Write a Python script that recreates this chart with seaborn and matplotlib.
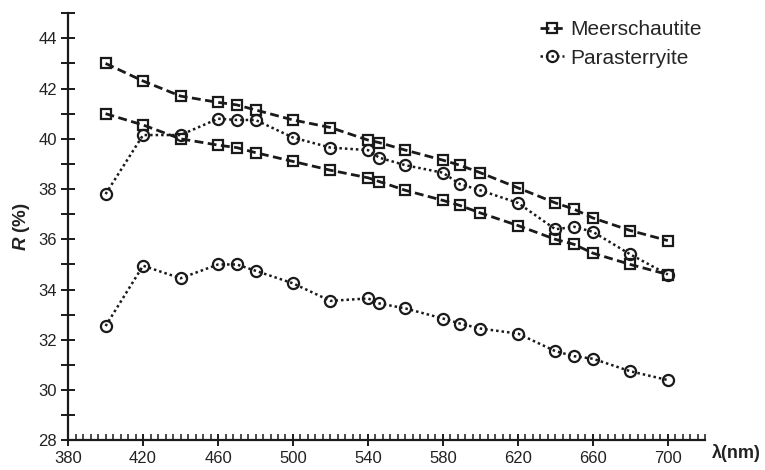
import pandas as pd
import seaborn as sns
import matplotlib.pyplot as plt
from matplotlib.ticker import MultipleLocator

# wavelengths (nm)
wl = [400, 420, 440, 460, 470, 480, 500, 520, 540, 546, 560, 580, 589, 600, 620, 640, 650, 660, 680, 700]

# Meerschautite R1 / R2
meer_r1 = [43.0, 42.3, 41.7, 41.45, 41.35, 41.15, 40.75, 40.45, 39.95, 39.85, 39.55, 39.15, 38.95, 38.65, 38.05, 37.45, 37.2, 36.85, 36.35, 35.95]
meer_r2 = [41.0, 40.55, 40.0, 39.75, 39.65, 39.45, 39.1, 38.75, 38.45, 38.3, 37.95, 37.55, 37.35, 37.05, 36.55, 36.0, 35.8, 35.45, 35.0, 34.6]

# Parasterryite R1 / R2
para_r1 = [37.8, 40.15, 40.15, 40.8, 40.75, 40.75, 40.05, 39.65, 39.55, 39.25, 38.95, 38.65, 38.2, 37.95, 37.45, 36.4, 36.5, 36.3, 35.4, 34.6]
para_r2 = [32.55, 34.95, 34.45, 35.0, 35.0, 34.75, 34.25, 33.55, 33.65, 33.45, 33.25, 32.85, 32.65, 32.45, 32.25, 31.55, 31.35, 31.25, 30.75, 30.4]

sns.set_style("ticks")
plt.rcParams['font.family'] = ['Liberation Sans', 'DejaVu Sans']
plt.rcParams['mathtext.fontset'] = 'custom'
plt.rcParams['mathtext.it'] = 'Liberation Sans:italic:bold'

fig = plt.figure(figsize=(7.65, 4.7), dpi=100)
ax = fig.add_axes([0.089, 0.063, 0.833, 0.909])

ink = '#1a1a1a'
meer_kw = dict(color=ink, linestyle=(0, (3.2, 1.6)), linewidth=2.0, marker='s', markersize=7.5,
               markerfacecolor='none', markeredgecolor=ink, markeredgewidth=1.6)
para_kw = dict(color=ink, linestyle=(0, (1, 1.2)), linewidth=1.8, marker='o', markersize=8,
               markerfacecolor='none', markeredgecolor=ink, markeredgewidth=1.6)

sns.lineplot(x=wl, y=meer_r1, ax=ax, label='Meerschautite', **meer_kw)
sns.lineplot(x=wl, y=meer_r2, ax=ax, **meer_kw)
sns.lineplot(x=wl, y=para_r1, ax=ax, label='Parasterryite', **para_kw)
sns.lineplot(x=wl, y=para_r2, ax=ax, **para_kw)

ax.set_xlim(380, 720)
ax.set_ylim(28, 45)
ax.set_xticks(range(380, 701, 40))
ax.xaxis.set_minor_locator(MultipleLocator(4))
ax.set_yticks(range(28, 45, 2))
ax.yaxis.set_minor_locator(MultipleLocator(1))

sns.despine(ax=ax)
for s in ['left', 'bottom']:
    ax.spines[s].set_linewidth(1.6)
    ax.spines[s].set_color(ink)

ax.tick_params(axis='x', which='major', direction='inout', length=9, width=1.4, color=ink,
               labelsize=12, pad=3, labelcolor='#222222')
ax.tick_params(axis='x', which='minor', direction='in', length=4, width=1.1, color=ink)
ax.tick_params(axis='y', which='major', direction='inout', length=10, width=1.4, color=ink,
               labelsize=12, pad=3, labelcolor='#222222')
ax.tick_params(axis='y', which='minor', direction='inout', length=10, width=1.4, color=ink)

ax.set_xlabel('')
ax.set_ylabel('')
fig.text(0.028, 0.519, r'$\mathit{R}$ (%)', rotation=90, fontsize=13.5, fontweight='bold',
         ha='center', va='center', color='#222222')
fig.text(0.963, 0.036, 'λ(nm)', fontsize=13, fontweight='bold', ha='center', va='center',
         color='#222222')

ax.legend(loc='upper left', bbox_to_anchor=(0.706, 0.957), bbox_transform=fig.transFigure,
          frameon=False, fontsize=15, handlelength=1.15, handletextpad=0.3,
          labelspacing=0.45, borderpad=0, borderaxespad=0)

fig.savefig('out.png', dpi=100)
